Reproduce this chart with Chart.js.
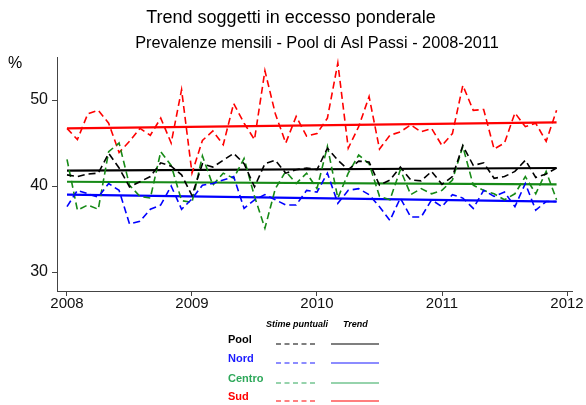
<!DOCTYPE html>
<html>
<head>
<meta charset="utf-8">
<script src="https://cdn.jsdelivr.net/npm/chart.js@4"></script>
<style>
  html, body { margin: 0; padding: 0; background: #fff; }
  #wrap { width: 586px; height: 405px; position: relative; }
</style>
</head>
<body>
<div id="wrap"><canvas id="trendChart" width="586" height="405"></canvas></div>
<script>
/* ===== Data ===== */
const startYear = 2008;
const yearTicks = [2008, 2009, 2010, 2011, 2012];
const valueTicks = [30, 40, 50];

// monthly estimates, Jan 2008 .. Dec 2011
const pool = [41.3, 41.1, 41.4, 41.5, 43.8, 42.1, 39.9, 40.5, 41.1, 42.7, 42.3, 41.3,
              38.9, 42.6, 42.2, 43.0, 43.8, 42.6, 39.9, 42.6, 43.0, 41.5, 41.9, 42.1,
              41.9, 44.4, 43.0, 41.9, 42.9, 42.8, 40.1, 40.7, 42.2, 40.7, 40.6, 41.7,
              40.2, 41.1, 44.7, 42.4, 42.7, 40.9, 41.1, 41.7, 43.0, 41.0, 41.4, 42.1];
const nord = [37.6, 39.5, 39.1, 38.7, 40.3, 39.5, 35.6, 35.9, 37.3, 37.8, 40.0, 37.3,
              38.5, 40.1, 40.3, 40.7, 41.1, 37.4, 38.4, 39.0, 38.4, 37.8, 37.8, 39.5,
              39.3, 41.5, 38.0, 39.5, 39.7, 39.0, 37.6, 36.0, 38.6, 36.4, 36.4, 38.4,
              37.6, 39.0, 38.6, 37.4, 39.5, 38.8, 39.3, 37.6, 40.3, 37.2, 38.2, 38.2];
const centro = [43.1, 37.2, 37.8, 37.3, 44.0, 45.0, 40.1, 38.8, 38.6, 44.0, 42.4, 38.3,
                38.1, 43.5, 40.1, 41.5, 40.9, 43.2, 38.8, 35.1, 39.7, 41.7, 40.3, 41.5,
                39.7, 44.6, 38.6, 41.5, 43.6, 42.6, 38.8, 38.4, 41.9, 39.0, 39.7, 39.1,
                39.5, 40.7, 44.6, 40.1, 39.5, 39.1, 38.4, 39.1, 41.1, 39.1, 41.7, 38.4];
const sud = [46.7, 45.4, 48.4, 48.8, 47.3, 43.9, 45.2, 46.7, 45.9, 47.9, 45.0, 51.2,
             41.5, 45.3, 46.4, 44.8, 49.6, 47.3, 45.4, 53.4, 48.4, 45.0, 48.1, 45.8,
             46.1, 47.9, 54.3, 44.4, 46.9, 50.4, 44.3, 45.9, 46.3, 47.1, 46.3, 46.7,
             44.7, 46.1, 51.7, 48.8, 48.9, 44.3, 45.0, 48.5, 46.9, 47.3, 45.2, 48.8];

// linear trend, value at first and last month
const trendPool = [41.8, 42.1];
const trendNord = [39.0, 38.2];
const trendCentro = [40.5, 40.2];
const trendSud = [46.7, 47.4];

const seriesNames = ['Pool', 'Nord', 'Centro', 'Sud'];
const seriesColors = ['#000000', '#0000ff', '#168a16', '#ff0000'];
const legendColors = ['#000000', '#1a1aff', '#2ea85a', '#ff0000'];


/* ===== Helpers ===== */
function monthly(values){
    return values.map((v, i) => ({x: startYear + i / 12, y: v}));
}
function trend(ends, n){
    return [{x: startYear, y: ends[0]}, {x: startYear + (n - 1) / 12, y: ends[1]}];
}

const monthlySets = [pool, nord, centro, sud];
const trendSets = [trendPool, trendNord, trendCentro, trendSud];

const datasets = [];
monthlySets.forEach((vals, k) => {
    datasets.push({
        label: seriesNames[k] + ' stime',
        data: monthly(vals),
        borderColor: seriesColors[k],
        borderWidth: 1.6,
        borderDash: [7, 4],
        pointRadius: 0,
        tension: 0
    });
});
trendSets.forEach((ends, k) => {
    datasets.push({
        label: seriesNames[k] + ' trend',
        data: trend(ends, monthlySets[k].length),
        borderColor: seriesColors[k],
        borderWidth: 2.2,
        pointRadius: 0,
        tension: 0
    });
});


/* ===== Titles + legend drawn on canvas ===== */
const decorations = {
    id: 'decorations',
    afterDraw(chart){
        const ctx = chart.ctx;
        ctx.save();
        ctx.fillStyle = '#000';
        ctx.textBaseline = 'middle';
        ctx.textAlign = 'center';
        ctx.font = '18px "Liberation Sans", Arial, sans-serif';
        ctx.fillText('Trend soggetti in eccesso ponderale', 291, 18);
        ctx.font = '16.3px "Liberation Sans", Arial, sans-serif';
        ctx.fillText('Prevalenze mensili - Pool di Asl Passi - 2008-2011', 317, 44);
        ctx.textAlign = 'left';
        ctx.font = '16px "Liberation Sans", Arial, sans-serif';
        ctx.fillText('%', 8, 64);

        // legend
        ctx.font = 'italic bold 9px "Liberation Sans", Arial, sans-serif';
        ctx.fillText('Stime puntuali', 266, 325);
        ctx.fillText('Trend', 343, 325);
        const rowY = [340, 359, 379, 397];
        seriesNames.forEach((name, k) => {
            const y = rowY[k];
            ctx.fillStyle = legendColors[k];
            ctx.font = 'bold 11px "Liberation Sans", Arial, sans-serif';
            ctx.fillText(name, 228, y);
            ctx.strokeStyle = legendColors[k];
            ctx.lineWidth = 1.2;
            ctx.setLineDash([5, 3.5]);
            ctx.beginPath();
            ctx.moveTo(276, y + 4);
            ctx.lineTo(317, y + 4);
            ctx.stroke();
            ctx.setLineDash([]);
            ctx.beginPath();
            ctx.moveTo(331, y + 4);
            ctx.lineTo(379, y + 4);
            ctx.stroke();
        });
        ctx.restore();
    }
};


/* ===== Chart ===== */
const axisColor = '#444';

const trendChart = new Chart(document.getElementById('trendChart'), {
    type: 'line',
    data: { datasets: datasets },
    options: {
        responsive: false,
        animation: false,
        layout: { padding: { top: 57, right: 14, bottom: 84, left: 0 } },
        plugins: {
            legend: { display: false },
            title: { display: false },
            tooltip: { enabled: false }
        },
        scales: {
            x: {
                type: 'linear',
                min: 2007.92,
                max: 2012.04,
                afterBuildTicks: s => { s.ticks = yearTicks.map(v => ({value: v})); },
                afterFit: s => { s.height = 30; },
                grid: { drawOnChartArea: false, tickLength: 5, color: axisColor },
                border: { color: axisColor },
                ticks: {
                    color: '#111',
                    padding: -1,
                    maxRotation: 0,
                    font: { family: '"Liberation Sans", Arial, sans-serif', size: 15 },
                    callback: v => String(v)
                }
            },
            y: {
                min: 27.8,
                max: 55,
                afterBuildTicks: s => { s.ticks = valueTicks.map(v => ({value: v})); },
                afterFit: s => { s.width = 57; },
                grid: { drawOnChartArea: false, tickLength: 5, color: axisColor },
                border: { color: axisColor },
                ticks: {
                    color: '#111',
                    padding: 4,
                    font: { family: '"Liberation Sans", Arial, sans-serif', size: 16 }
                }
            }
        }
    },
    plugins: [decorations]
});
</script>
</body>
</html>
